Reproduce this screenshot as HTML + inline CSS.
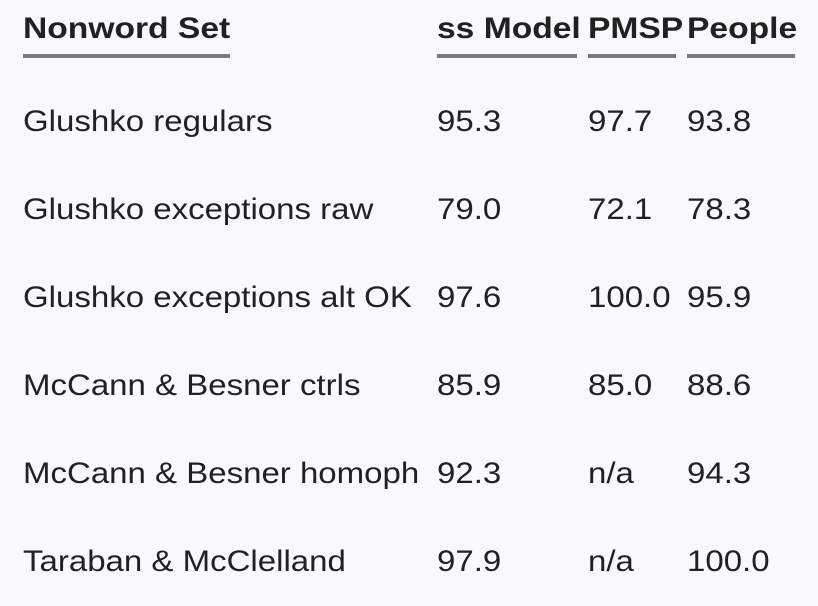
<!DOCTYPE html>
<html><head><meta charset="utf-8"><style>
html,body{margin:0;padding:0;background:#f9f8fc;}
body{width:818px;height:606px;position:relative;overflow:hidden;font-family:"Liberation Sans",sans-serif;color:#212121;}
.c{position:absolute;font-size:30px;line-height:36px;white-space:nowrap;transform:scaleX(1.1);transform-origin:0 50%;}
.h{font-weight:bold;top:11px;transform:scaleX(1.12);}
.u{position:absolute;top:54px;height:4px;background:#7b7a80;}
</style></head><body>
<div class="c h" style="left:23px">Nonword Set</div>
<div class="c h" style="left:437px">ss Model</div>
<div class="c h" style="left:588px">PMSP</div>
<div class="c h" style="left:687px">People</div>
<div class="u" style="left:23px;width:207px"></div>
<div class="u" style="left:437px;width:140px"></div>
<div class="u" style="left:588px;width:88px"></div>
<div class="u" style="left:687px;width:108px"></div>
<script>
const names=["Glushko regulars","Glushko exceptions raw","Glushko exceptions alt OK","McCann & Besner ctrls","McCann & Besner homoph","Taraban & McClelland"];
const ssModel=["95.3","79.0","97.6","85.9","92.3","97.9"];
const pmsp=["97.7","72.1","100.0","85.0","n/a","n/a"];
const people=["93.8","78.3","95.9","88.6","94.3","100.0"];
const lefts=[23,437,588,687];
names.forEach((n,i)=>{
  const vals=[n,ssModel[i],pmsp[i],people[i]];
  vals.forEach((v,j)=>{
    const d=document.createElement('div');
    d.className='c';
    
    
    d.style.left=lefts[j]+'px';
    d.style.top=(104+i*88)+'px';
    d.textContent=v;
    document.body.appendChild(d);
  });
});
</script>
</body></html>
